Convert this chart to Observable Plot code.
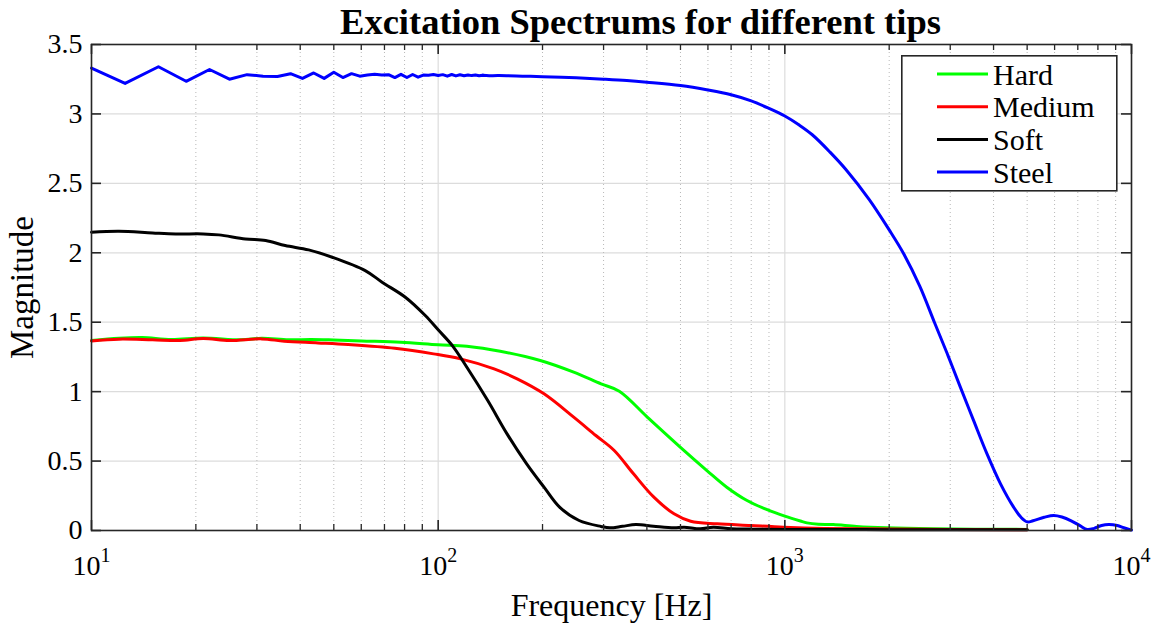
<!DOCTYPE html>
<html>
<head>
<meta charset="utf-8">
<script src="https://cdn.jsdelivr.net/npm/d3@7"></script>
<script src="https://cdn.jsdelivr.net/npm/@observablehq/plot@0.6"></script>
<style>
  html, body { margin: 0; padding: 0; background: #fff; }
  #wrap { position: relative; width: 1168px; height: 623px; font-family: "Liberation Serif", "Times New Roman", serif; }
  #wrap svg text { font-family: "Liberation Serif", "Times New Roman", serif; }
  #legend { position: absolute; left: 901px; top: 55px; }
</style>
</head>
<body>
<div id="wrap"></div>
<script>
// ---- data ----
const titleText = "Excitation Spectrums for different tips";
const xLabel = "Frequency [Hz]";
const yLabel = "Magnitude";
const seriesNames = ["Hard", "Medium", "Soft", "Steel"];
const seriesColors = ["#00ff00", "#ff0000", "#000000", "#0000ff"];

const hardF = [10,12,14,17,21,27,31,37,43,50,60,78,100,121,151,197,246,295,333,401,499,596,680,778,889,1000,1109,1158,1250,1380,1610,1962,2684,5000];
const hardM = [1.368,1.385,1.39,1.376,1.387,1.373,1.385,1.373,1.376,1.372,1.365,1.356,1.338,1.327,1.291,1.224,1.14,1.056,1.003,0.817,0.601,0.432,0.312,0.216,0.15,0.103,0.068,0.055,0.045,0.043,0.029,0.019,0.012,0.008];

const medF = [10,12,15,18,21,25,31,36,45,55,75,97,116,145,169,202,246,285,322,366,419,479,535,638,796,992,1300,2000,5000];
const medM = [1.365,1.378,1.373,1.368,1.382,1.368,1.38,1.363,1.351,1.339,1.312,1.272,1.236,1.164,1.092,0.984,0.816,0.684,0.576,0.408,0.24,0.12,0.067,0.048,0.036,0.024,0.015,0.01,0.005];

const softF = [10,12,15,17.5,21,23.3,27.8,31.8,36.2,42.3,49.5,61.6,68.9,80.4,91.8,100,110,121,139,158,180,202,224,255,295,313,340,372,418,479,512,570,622,700,800,1000,2000,5000];
const softM = [2.148,2.155,2.143,2.136,2.136,2.129,2.10,2.088,2.052,2.021,1.968,1.872,1.788,1.68,1.548,1.445,1.33,1.176,0.936,0.696,0.48,0.312,0.168,0.072,0.029,0.019,0.03,0.043,0.031,0.019,0.024,0.012,0.024,0.012,0.01,0.008,0.006,0.005];

const steelF = [10,12.5,15.6,18.75,21.9,25,28.1,31.25,34.4,37.5,40.6,43.75,46.9,50,53.1,56.25,59.4,62.5,65.6,68.75,71.9,75,78.1,81.25,84.4,87.5,90.6,93.75,96.9,100,103.1,106.25,109.4,112.5,115.6,118.75,121.9,125,128.1,131.25,134.4,137.5,150,175,200,250,300,350,400,500,600,700,800,900,1000,1100,1200,1350,1500,1750,2000,2200,2450,2700,2950,3200,3500,3830,4190,4570,4800,5000,5200,5600,5970,6300,6700,7100,7450,7800,8200,8600,9100,9500,10000];
const steelM = [3.33,3.22,3.34,3.235,3.32,3.25,3.283,3.272,3.27,3.29,3.256,3.295,3.256,3.30,3.262,3.29,3.272,3.28,3.285,3.28,3.283,3.262,3.285,3.262,3.284,3.265,3.28,3.278,3.284,3.277,3.283,3.272,3.284,3.274,3.282,3.275,3.281,3.276,3.28,3.275,3.279,3.276,3.276,3.272,3.268,3.26,3.25,3.24,3.228,3.204,3.172,3.138,3.094,3.04,2.985,2.92,2.85,2.725,2.6,2.385,2.165,1.995,1.76,1.50,1.265,1.04,0.795,0.552,0.336,0.168,0.095,0.062,0.07,0.095,0.108,0.097,0.07,0.035,0.007,0.015,0.036,0.043,0.036,0.02,0.003];

const majorX = [10, 100, 1000, 10000];
const minorX = [20,30,40,50,60,70,80,90,200,300,400,500,600,700,800,900,2000,3000,4000,5000,6000,7000,8000,9000];
const yTicks = [0, 0.5, 1, 1.5, 2, 2.5, 3, 3.5];

// ---- build ----
const zip = (F, M) => F.map((f, i) => ({f, m: M[i]}));
const hard = zip(hardF, hardM), med = zip(medF, medM), soft = zip(softF, softM), steel = zip(steelF, steelM);

const width = 1168, height = 623;
const mL = 91, mR = 37, mT = 44, mB = 93;
const fw = width - mL - mR, fh = height - mT - mB;
const ink = "#262626";
const lw = 3;
const serif = '"Liberation Serif", "Times New Roman", serif';

const chart = Plot.plot({
  width, height,
  marginLeft: mL, marginRight: mR, marginTop: mT, marginBottom: mB,
  style: {fontFamily: serif, fontSize: "28px", color: "#000", background: "#fff", overflow: "visible"},
  x: {type: "log", domain: [10, 10000], label: null},
  y: {domain: [0, 3.5], label: null},
  marks: [
    Plot.gridY(yTicks, {stroke: "#dcdcdc", strokeOpacity: 1, strokeWidth: 1.2}),
    Plot.gridX(minorX, {stroke: "#b8b8b8", strokeOpacity: 1, strokeWidth: 1, strokeDasharray: "1,3"}),
    Plot.gridX(majorX, {stroke: "#dcdcdc", strokeOpacity: 1, strokeWidth: 1.2}),
    Plot.line(hard, {x: "f", y: "m", stroke: seriesColors[0], strokeWidth: lw, curve: "catmull-rom"}),
    Plot.line(med, {x: "f", y: "m", stroke: seriesColors[1], strokeWidth: lw, curve: "catmull-rom"}),
    Plot.line(soft, {x: "f", y: "m", stroke: seriesColors[2], strokeWidth: lw, curve: "catmull-rom"}),
    Plot.line(steel.filter(d => d.f <= 137.5), {x: "f", y: "m", stroke: seriesColors[3], strokeWidth: lw, curve: "linear"}),
    Plot.line(steel.filter(d => d.f >= 134.4), {x: "f", y: "m", stroke: seriesColors[3], strokeWidth: lw, curve: "catmull-rom"}),
    Plot.frame({stroke: ink, strokeWidth: 1.6}),
    // inward ticks, bottom & top
    Plot.tickX(majorX, {x: d => d, insetTop: fh - 10, stroke: ink, strokeWidth: 1.6}),
    Plot.tickX(majorX, {x: d => d, insetBottom: fh - 10, stroke: ink, strokeWidth: 1.6}),
    Plot.tickX(minorX, {x: d => d, insetTop: fh - 6, stroke: ink, strokeWidth: 1.3}),
    Plot.tickX(minorX, {x: d => d, insetBottom: fh - 6, stroke: ink, strokeWidth: 1.3}),
    // inward ticks, left & right
    Plot.tickY(yTicks, {y: d => d, insetRight: fw - 10, stroke: ink, strokeWidth: 1.6}),
    Plot.tickY(yTicks, {y: d => d, insetLeft: fw - 10, stroke: ink, strokeWidth: 1.6}),
    Plot.axisX(majorX, {tickSize: 0, tickPadding: 25, label: null, fontSize: 28, fontFamily: serif,
      tickFormat: d => `10^${Math.round(Math.log10(d))}`}),
    Plot.axisY(yTicks, {tickSize: 0, tickPadding: 9, label: null, fontSize: 28, fontFamily: serif, tickFormat: d => String(d)}),
    Plot.text([xLabel], {text: d => d, frameAnchor: "bottom", lineAnchor: "middle", textAnchor: "middle", dy: 75, fontSize: 32, fontFamily: serif}),
    Plot.text([yLabel], {text: d => d, frameAnchor: "left", lineAnchor: "middle", textAnchor: "middle", dx: -69, rotate: -90, fontSize: 33, fontFamily: serif}),
    Plot.text([titleText], {text: d => d, frameAnchor: "top", lineAnchor: "middle", textAnchor: "middle", dy: -22, dx: 29, fontSize: 36.5, fontWeight: "bold", fontFamily: serif})
  ]
});

// superscript exponents on x tick labels
const SVGNS = "http://www.w3.org/2000/svg";
chart.querySelectorAll('[aria-label="x-axis tick label"] text').forEach(t => {
  const parts = t.textContent.split("^");
  if (parts.length !== 2) return;
  t.textContent = parts[0];
  const ts = document.createElementNS(SVGNS, "tspan");
  ts.setAttribute("dy", "-13");
  ts.setAttribute("font-size", "20");
  ts.textContent = parts[1];
  t.appendChild(ts);
});

const wrap = document.getElementById("wrap");
wrap.appendChild(chart);

// legend overlay
const lg = d3.create("svg").attr("id", "legend").attr("width", 217).attr("height", 137)
  .attr("font-family", serif);
lg.append("rect").attr("x", 0.8).attr("y", 0.8).attr("width", 215).attr("height", 135)
  .attr("fill", "#fff").attr("stroke", ink).attr("stroke-width", 1.6);
seriesNames.forEach((name, i) => {
  const cy = 19 + i * 32.7;
  lg.append("line").attr("x1", 36).attr("x2", 87).attr("y1", cy).attr("y2", cy)
    .attr("stroke", seriesColors[i]).attr("stroke-width", lw);
  lg.append("text").attr("x", 92).attr("y", cy).attr("dy", "0.35em")
    .attr("font-size", 30).attr("font-family", serif).attr("fill", "#000").text(name);
});
wrap.appendChild(lg.node());
</script>
</body>
</html>
